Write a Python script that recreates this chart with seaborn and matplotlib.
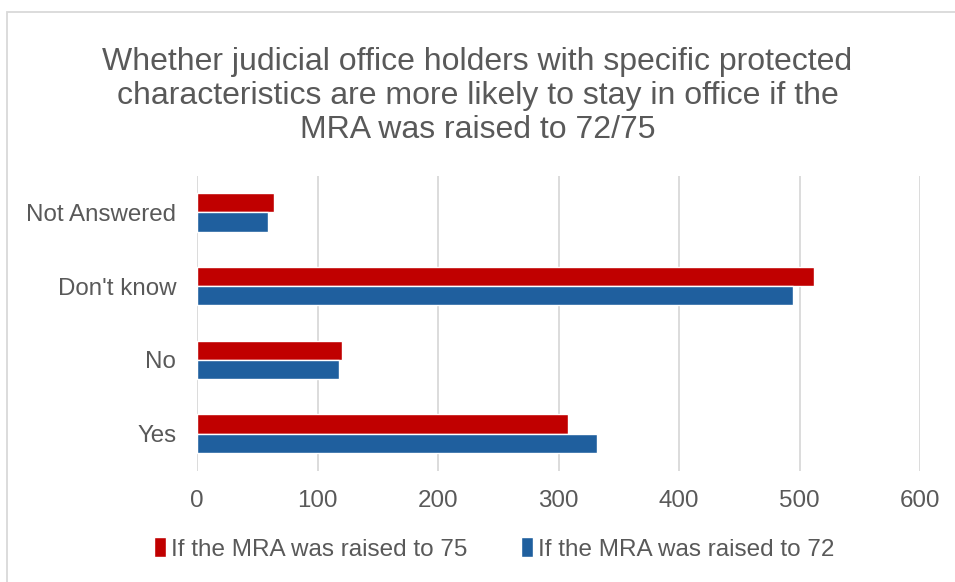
import matplotlib
matplotlib.use("Agg")
import matplotlib.pyplot as plt
import seaborn as sns
import pandas as pd
from matplotlib.patches import Rectangle

categories = ["Not Answered", "Don't know", "No", "Yes"]
series_names = ["If the MRA was raised to 75", "If the MRA was raised to 72"]
values_75 = [64, 512, 120, 308]
values_72 = [59, 495, 118, 332]
colors = ["#C00000", "#1F5F9E"]
x_ticks = [0, 100, 200, 300, 400, 500, 600]

df = pd.DataFrame({
    "category": categories * 2,
    "series": [series_names[0]] * 4 + [series_names[1]] * 4,
    "value": values_75 + values_72,
})

sns.set_theme(style="white")
plt.rcParams["font.family"] = ["Liberation Sans", "DejaVu Sans"]

fig = plt.figure(figsize=(9.55, 5.82), dpi=100)
ax = fig.add_axes([197 / 955, 1 - 470.5 / 582, (920 - 197) / 955, (470.5 - 175.5) / 582])

sns.barplot(data=df, y="category", x="value", hue="series", order=categories,
            hue_order=series_names, palette=colors, width=0.525, orient="h",
            saturation=1, ax=ax, legend=True)

ax.set_xlim(0, 600)
ax.set_ylim(3.5, -0.5)
ax.set_xticks(x_ticks)
ax.set_xticklabels([str(t) for t in x_ticks])
ax.set_xlabel("")
ax.set_ylabel("")
ax.grid(axis="x", color="#d9d9d9", linewidth=1.3)
ax.grid(axis="y", visible=False)
ax.set_axisbelow(True)
for s in ax.spines.values():
    s.set_visible(False)
ax.tick_params(axis="both", length=0, labelsize=17.4, labelcolor="#595959")
ax.tick_params(axis="x", pad=14)
ax.tick_params(axis="y", pad=15)

fig.text(0.5, 1 - 96 / 582,
         "Whether judicial office holders with specific protected\n"
         "characteristics are more likely to stay in office if the\n"
         "MRA was raised to 72/75",
         ha="center", va="center", fontsize=23, color="#595959", linespacing=1.17)

leg = ax.legend(loc="center", bbox_to_anchor=(494 / 955, 1 - 549 / 582),
                bbox_transform=fig.transFigure, ncol=2, frameon=False,
                fontsize=17.5, handlelength=0.5, handleheight=0.85,
                handletextpad=0.2, columnspacing=2.2, labelcolor="#595959")

fig.patches.append(Rectangle((7 / 955, -0.1), 1.2, 1.1 - 12 / 582,
                             transform=fig.transFigure, fill=False,
                             edgecolor="#d9d9d9", linewidth=1.3))

fig.savefig("out.png", dpi=100)
